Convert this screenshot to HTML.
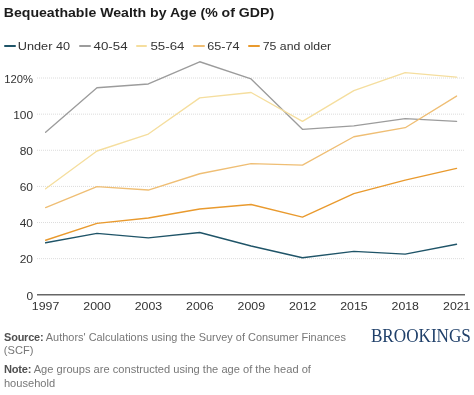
<!DOCTYPE html>
<html><head><meta charset="utf-8">
<style>
html,body{margin:0;padding:0;background:#fff;}
body{width:474px;height:395px;position:relative;overflow:hidden;}
svg{position:absolute;left:0;top:0;will-change:transform;}
</style></head><body>
<svg width="474" height="395" viewBox="0 0 474 395">
<line x1="37" y1="258.67" x2="465" y2="258.67" stroke="#dcdcdc" stroke-width="1" stroke-dasharray="1 1"/>
<line x1="37" y1="222.54" x2="465" y2="222.54" stroke="#dcdcdc" stroke-width="1" stroke-dasharray="1 1"/>
<line x1="37" y1="186.41" x2="465" y2="186.41" stroke="#dcdcdc" stroke-width="1" stroke-dasharray="1 1"/>
<line x1="37" y1="150.28" x2="465" y2="150.28" stroke="#dcdcdc" stroke-width="1" stroke-dasharray="1 1"/>
<line x1="37" y1="114.15" x2="465" y2="114.15" stroke="#dcdcdc" stroke-width="1" stroke-dasharray="1 1"/>
<line x1="37" y1="78.02" x2="465" y2="78.02" stroke="#dcdcdc" stroke-width="1" stroke-dasharray="1 1"/>

<line x1="37" y1="294.8" x2="465" y2="294.8" stroke="#666" stroke-width="1.5"/>
<polyline points="45.60,132.22 96.97,87.78 148.34,83.98 199.71,61.76 251.08,78.92 302.45,129.32 353.82,125.89 405.19,118.67 456.56,121.38" fill="none" stroke="#9c9c9c" stroke-width="1.35" stroke-linejoin="round" stroke-linecap="round"/>
<polyline points="45.60,188.76 96.97,151.00 148.34,134.02 199.71,97.89 251.08,92.47 302.45,121.38 353.82,90.67 405.19,72.60 456.56,77.12" fill="none" stroke="#f5de9e" stroke-width="1.35" stroke-linejoin="round" stroke-linecap="round"/>
<polyline points="45.60,207.55 96.97,186.59 148.34,190.02 199.71,173.76 251.08,163.65 302.45,165.09 353.82,136.73 405.19,127.70 456.56,96.08" fill="none" stroke="#efbe74" stroke-width="1.35" stroke-linejoin="round" stroke-linecap="round"/>
<polyline points="45.60,240.24 96.97,223.44 148.34,218.02 199.71,208.99 251.08,204.47 302.45,217.12 353.82,193.64 405.19,180.09 456.56,168.34" fill="none" stroke="#e99a2e" stroke-width="1.35" stroke-linejoin="round" stroke-linecap="round"/>
<polyline points="45.60,242.77 96.97,233.38 148.34,237.90 199.71,232.48 251.08,246.02 302.45,257.77 353.82,251.44 405.19,254.15 456.56,244.22" fill="none" stroke="#1f5468" stroke-width="1.35" stroke-linejoin="round" stroke-linecap="round"/>

<line x1="5" y1="45.9" x2="15" y2="45.9" stroke="#1f5468" stroke-width="2" stroke-linecap="round"/>
<line x1="80" y1="45.9" x2="90" y2="45.9" stroke="#9c9c9c" stroke-width="2" stroke-linecap="round"/>
<line x1="137" y1="45.9" x2="146" y2="45.9" stroke="#f5de9e" stroke-width="2" stroke-linecap="round"/>
<line x1="194" y1="45.9" x2="204" y2="45.9" stroke="#efbe74" stroke-width="2" stroke-linecap="round"/>
<line x1="249" y1="45.9" x2="259" y2="45.9" stroke="#e99a2e" stroke-width="2" stroke-linecap="round"/>

<text transform="translate(3.75,16.60) scale(1.0461,1)" font-family="Liberation Sans" font-size="13.5" font-weight="bold" fill="#1b1b1b">Bequeathable Wealth by Age (% of GDP)</text>
<text transform="translate(17.82,49.90) scale(1.0766,1)" font-family="Liberation Sans" font-size="11.8" font-weight="normal" fill="#333">Under 40</text>
<text transform="translate(93.52,49.90) scale(1.1288,1)" font-family="Liberation Sans" font-size="11.8" font-weight="normal" fill="#333">40-54</text>
<text transform="translate(150.44,49.90) scale(1.1282,1)" font-family="Liberation Sans" font-size="11.8" font-weight="normal" fill="#333">55-64</text>
<text transform="translate(207.16,49.90) scale(1.0701,1)" font-family="Liberation Sans" font-size="11.8" font-weight="normal" fill="#333">65-74</text>
<text transform="translate(262.68,49.90) scale(1.0446,1)" font-family="Liberation Sans" font-size="11.8" font-weight="normal" fill="#333">75 and older</text>
<text transform="translate(370.93,341.60) scale(0.9324,1)" font-family="Liberation Serif" font-size="18.4" font-weight="normal" fill="#20406a">BROOKINGS</text>
<text transform="translate(4.08,340.90) scale(1.0429,1)" font-family="Liberation Sans" font-size="10.5" font-weight="normal" fill="#777"><tspan font-weight="bold" fill="#505050" letter-spacing="-0.2">Source:</tspan> Authors' Calculations using the Survey of Consumer Finances</text>
<text transform="translate(3.91,372.70) scale(1.0598,1)" font-family="Liberation Sans" font-size="10.5" font-weight="normal" fill="#777"><tspan font-weight="bold" fill="#505050" letter-spacing="-0.2">Note:</tspan> Age groups are constructed using the age of the head of</text>
<text transform="translate(3.80,354.2) scale(1.0600,1)" font-family="Liberation Sans" font-size="10.5" fill="#777">(SCF)</text>
<text transform="translate(3.91,386.8) scale(1.0600,1)" font-family="Liberation Sans" font-size="10.5" fill="#777">household</text>
<text transform="translate(26.38,299.59) scale(1.03,1)" font-family="Liberation Sans" font-size="11.6" fill="#333">0</text>
<text transform="translate(19.66,263.46) scale(1.03,1)" font-family="Liberation Sans" font-size="11.6" fill="#333">20</text>
<text transform="translate(19.66,227.33) scale(1.03,1)" font-family="Liberation Sans" font-size="11.6" fill="#333">40</text>
<text transform="translate(19.66,191.20) scale(1.03,1)" font-family="Liberation Sans" font-size="11.6" fill="#333">60</text>
<text transform="translate(19.66,154.95) scale(1.03,1)" font-family="Liberation Sans" font-size="11.6" fill="#333">80</text>
<text transform="translate(13.18,118.94) scale(1.03,1)" font-family="Liberation Sans" font-size="11.6" fill="#333">100</text>
<text transform="translate(4.24,82.81) scale(0.97,1)" font-family="Liberation Sans" font-size="11.6" fill="#333">120%</text>
<text transform="translate(31.80,310.4) scale(1.065,1)" font-family="Liberation Sans" font-size="11.6" fill="#333">1997</text>
<text transform="translate(83.30,310.4) scale(1.065,1)" font-family="Liberation Sans" font-size="11.6" fill="#333">2000</text>
<text transform="translate(134.67,310.4) scale(1.065,1)" font-family="Liberation Sans" font-size="11.6" fill="#333">2003</text>
<text transform="translate(186.04,310.4) scale(1.065,1)" font-family="Liberation Sans" font-size="11.6" fill="#333">2006</text>
<text transform="translate(237.54,310.4) scale(1.065,1)" font-family="Liberation Sans" font-size="11.6" fill="#333">2009</text>
<text transform="translate(288.91,310.4) scale(1.065,1)" font-family="Liberation Sans" font-size="11.6" fill="#333">2012</text>
<text transform="translate(340.15,310.4) scale(1.065,1)" font-family="Liberation Sans" font-size="11.6" fill="#333">2015</text>
<text transform="translate(391.52,310.4) scale(1.065,1)" font-family="Liberation Sans" font-size="11.6" fill="#333">2018</text>
<text transform="translate(443.02,310.4) scale(1.065,1)" font-family="Liberation Sans" font-size="11.6" fill="#333">2021</text>

</svg>
</body></html>
